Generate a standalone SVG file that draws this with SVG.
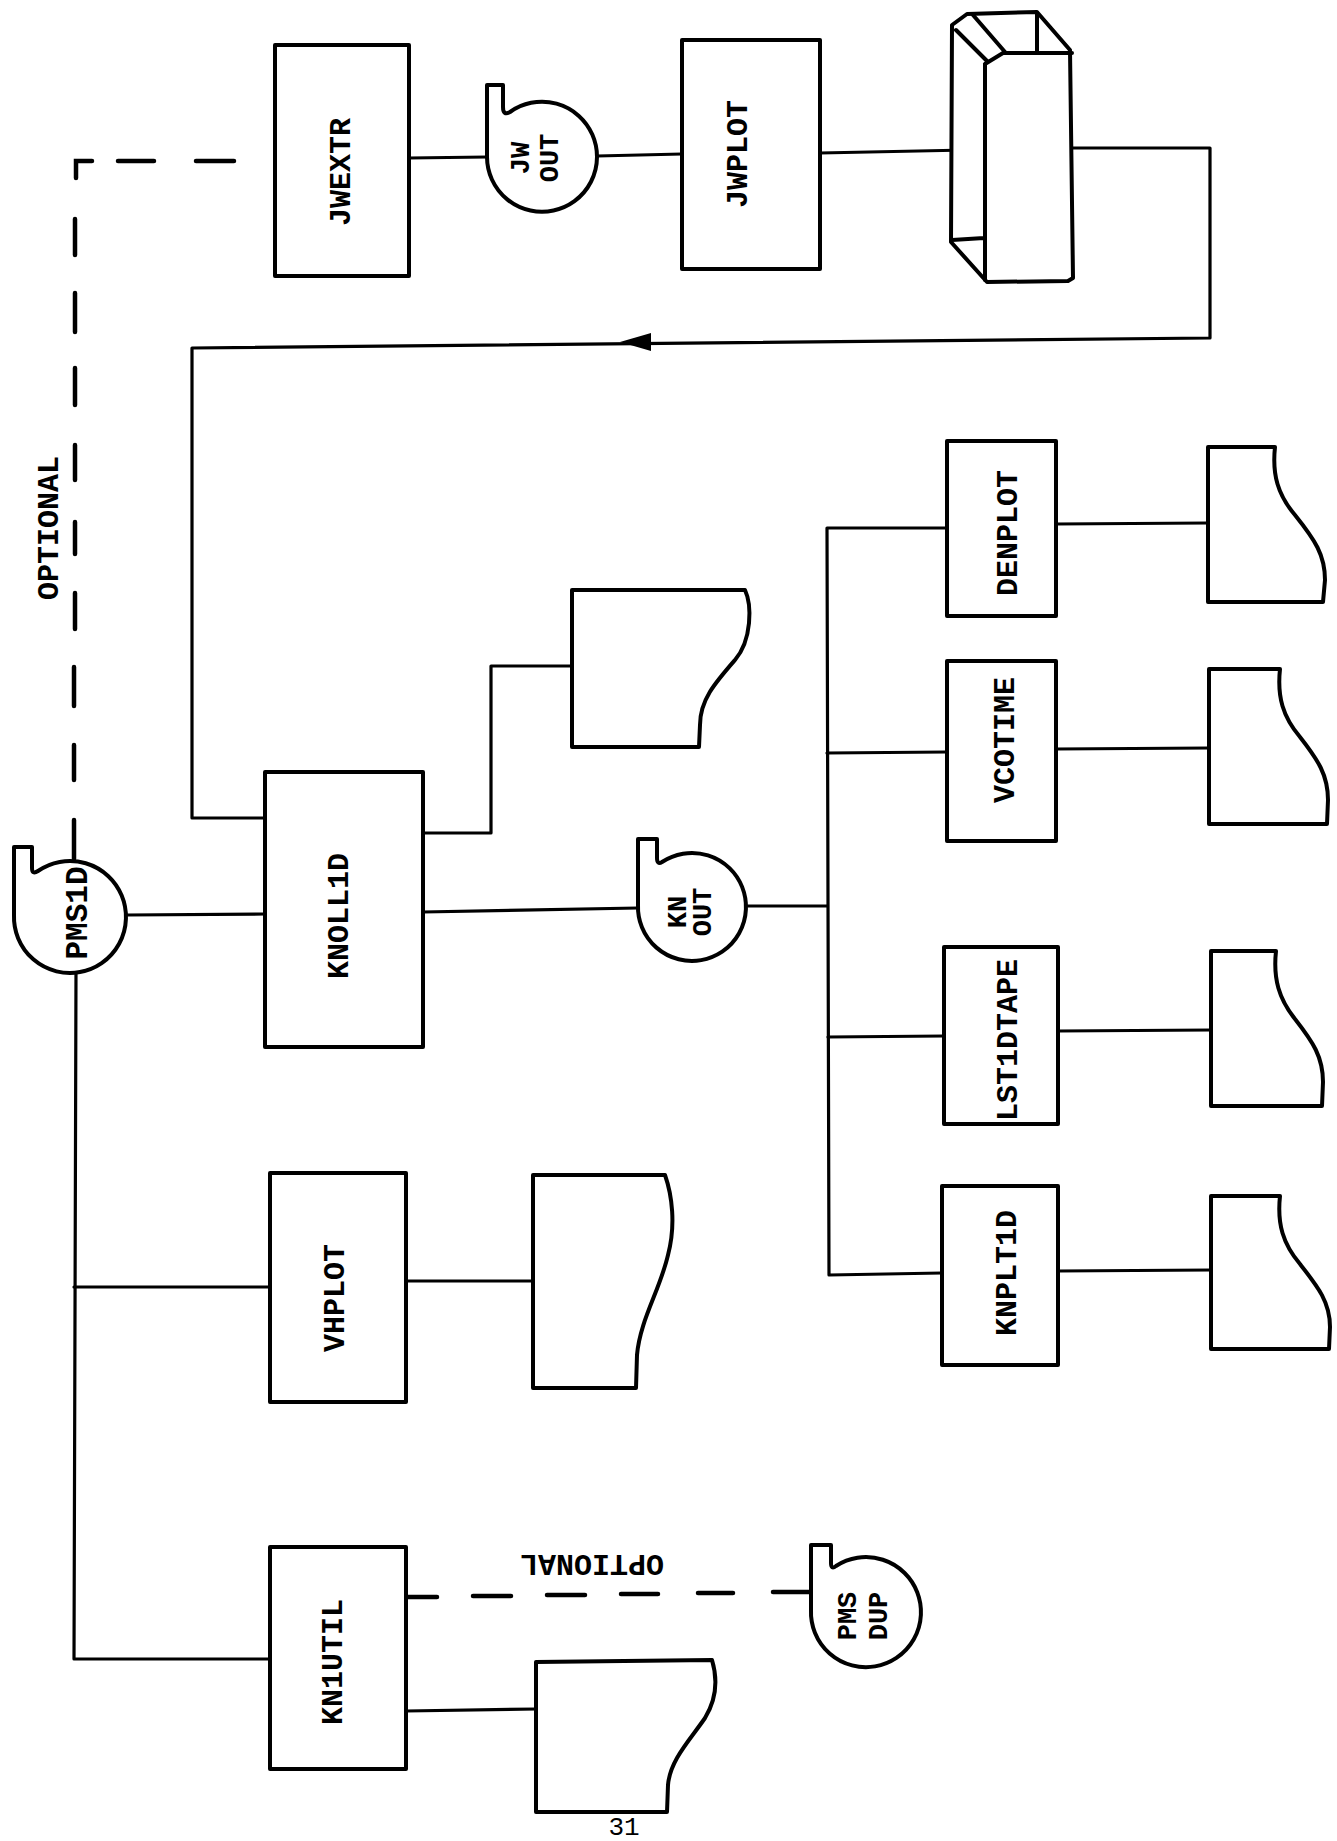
<svg xmlns="http://www.w3.org/2000/svg" width="1337" height="1841" viewBox="0 0 1337 1841">
<style>
.box{fill:#fff;stroke:#000;stroke-width:4;stroke-linejoin:round}
.sym{fill:#fff;stroke:#000;stroke-width:4;stroke-linejoin:round;stroke-linecap:round}
.ln{fill:none;stroke:#000;stroke-width:3.2;stroke-linecap:round;stroke-linejoin:round}
.dash{fill:none;stroke:#000;stroke-width:4.5;stroke-linecap:round}
.lbl{font-family:"Liberation Mono","DejaVu Sans Mono",monospace;font-size:30px;font-weight:bold;text-anchor:middle;fill:#000}
.blbl{font-family:"Liberation Mono","DejaVu Sans Mono",monospace;font-size:30px;font-weight:bold;text-anchor:middle;fill:#000}
.tlbl{font-family:"Liberation Mono","DejaVu Sans Mono",monospace;font-size:27px;font-weight:bold;text-anchor:middle;fill:#000}
</style>
<rect width="1337" height="1841" fill="#fff"/>

<g id="connectors">
  <path class="ln" d="M409,158 L487,157"/>
  <path class="ln" d="M597,156 L682,154"/>
  <path class="ln" d="M820,153 L967,150"/>
  <path class="ln" d="M1073,148 L1210,148 L1210,338 L192,348 L192,818 L265,818"/>
  <polygon points="620,342 651,333 651,351" fill="#000"/>
  <path class="ln" d="M127,915 L265,914"/>
  <path class="ln" d="M76,970 L74,1659 L270,1659"/>
  <path class="ln" d="M74,1287 L270,1287"/>
  <path class="ln" d="M423,833 L491,833 L491,666 L572,666"/>
  <path class="ln" d="M423,912 L638,908"/>
  <path class="ln" d="M747,906 L827,906"/>
  <path class="ln" d="M947,528 L827,528 L829,1275 L942,1273"/>
  <path class="ln" d="M827,753 L947,752"/>
  <path class="ln" d="M828,1037 L944,1036"/>
  <path class="ln" d="M1056,524 L1208,523"/>
  <path class="ln" d="M1056,749 L1209,748"/>
  <path class="ln" d="M1058,1031 L1211,1030"/>
  <path class="ln" d="M1058,1271 L1211,1270"/>
  <path class="ln" d="M406,1281 L533,1281"/>
  <path class="ln" d="M406,1711 L536,1709"/>
  <path class="dash" d="M234,161 L196,161 M154,161 L118,161 M92,161 L76,161 L76,178 M75,219 L75,255 M75,293 L75,332 M75,368 L75,405 M75,445 L75,480 M75,522 L75,554 M75,593 L75,629 M74,667 L74,706 M74,745 L74,780 M74,820 L74,859"/>
  <path class="dash" d="M406,1597 L437,1597 M473,1596 L511,1596 M547,1595 L585,1595 M621,1594 L658,1594 M698,1593 L733,1593 M773,1592 L809,1592"/>
</g>

<g id="optional-top">
  <text class="blbl" transform="translate(58,528) rotate(-90)">OPTIONAL</text>
</g>
<g id="optional-bottom">
  <text class="blbl" transform="translate(592,1555) rotate(180)">OPTIONAL</text>
</g>

<g id="jwextr">
  <rect class="box" x="275" y="45" width="134" height="231"/>
  <text class="lbl" transform="translate(350,172) rotate(-90)">JWEXTR</text>
</g>

<g id="jwout">
  <path class="sym" d="M487,157 L487,85 L503,85 L503,107 Q503,116 510,112 A55,55 0 1 1 487,157 Z"/>
  <text class="tlbl" transform="translate(529,158) rotate(-90)">JW</text>
  <text class="tlbl" transform="translate(558,158) rotate(-90)">OUT</text>
</g>

<g id="jwplot">
  <rect class="box" x="682" y="40" width="138" height="229"/>
  <text class="lbl" transform="translate(747,154) rotate(-90)">JWPLOT</text>
</g>

<g id="printer">
  <path class="sym" d="M952,25 L967,14 L1037,12 L1070,50 L1073,278 L1068,281 L987,282 L951,242 Z"/>
  <path class="ln" style="stroke-width:4" d="M985,64 L985,280 M985,64 L1003,53 L1072,53 M956,30 L988,62 M973,15 L1005,52 M1037,13 L1037,51 M952,240 L984,238"/>
</g>

<g id="pms1d">
  <path class="sym" d="M14,915 L14,847 L32,847 L32,868 Q32,875 38,871 A56,56 0 1 1 14,915 Z"/>
  <text class="blbl" style="font-size:31px" transform="translate(87,913) rotate(-90)">PMS1D</text>
</g>

<g id="knoll1d">
  <rect class="box" x="265" y="772" width="158" height="275"/>
  <text class="lbl" transform="translate(348,916) rotate(-90)">KNOLL1D</text>
</g>

<g id="knoll1d-report">
  <path class="sym" d="M572,590 L745,590 C752,605 752,640 735,660 C715,683 700,700 700,725 L699,747 L572,747 Z"/>
</g>

<g id="knout">
  <path class="sym" d="M638,905 L638,839 L657,839 L657,858 Q657,865 662,862 A54,54 0 1 1 638,905 Z"/>
  <text class="tlbl" transform="translate(686,912) rotate(-90)">KN</text>
  <text class="tlbl" transform="translate(711,912) rotate(-90)">OUT</text>
</g>

<g id="denplot">
  <rect class="box" x="947" y="441" width="109" height="175"/>
  <text class="lbl" transform="translate(1017,533) rotate(-90)">DENPLOT</text>
</g>
<g id="denplot-report">
  <path class="sym" d="M1208,447 L1275,447 C1272,475 1278,495 1295,515 C1315,540 1325,555 1325,580 L1323,602 L1208,602 Z"/>
</g>

<g id="vcotime">
  <rect class="box" x="947" y="661" width="109" height="180"/>
  <text class="lbl" transform="translate(1014,740) rotate(-90)">VCOTIME</text>
</g>
<g id="vcotime-report">
  <path class="sym" d="M1209,669 L1280,669 C1277,697 1283,717 1300,737 C1318,760 1328,775 1328,800 L1327,824 L1209,824 Z"/>
</g>

<g id="lst1dtape">
  <rect class="box" x="944" y="947" width="114" height="177"/>
  <text class="lbl" transform="translate(1017,1040) rotate(-90)">LST1DTAPE</text>
</g>
<g id="lst1dtape-report">
  <path class="sym" d="M1211,951 L1276,951 C1273,979 1279,999 1295,1019 C1313,1042 1323,1057 1323,1082 L1322,1106 L1211,1106 Z"/>
</g>

<g id="knplt1d">
  <rect class="box" x="942" y="1186" width="116" height="179"/>
  <text class="lbl" transform="translate(1016,1273) rotate(-90)">KNPLT1D</text>
</g>
<g id="knplt1d-report">
  <path class="sym" d="M1211,1196 L1280,1196 C1277,1224 1283,1244 1300,1264 C1318,1287 1330,1302 1330,1327 L1329,1349 L1211,1349 Z"/>
</g>

<g id="vhplot">
  <rect class="box" x="270" y="1173" width="136" height="229"/>
  <text class="lbl" transform="translate(344,1298) rotate(-90)">VHPLOT</text>
</g>
<g id="vhplot-report">
  <path class="sym" d="M533,1175 L665,1175 C672,1195 676,1225 668,1255 C660,1290 640,1320 637,1355 L636,1388 L533,1388 Z"/>
</g>

<g id="kn1util">
  <rect class="box" x="270" y="1547" width="136" height="222"/>
  <text class="lbl" transform="translate(342,1662) rotate(-90)">KN1UTIL</text>
</g>
<g id="kn1util-report">
  <path class="sym" d="M536,1662 L712,1660 C718,1680 716,1700 705,1718 C690,1740 670,1760 668,1785 L667,1812 L536,1812 Z"/>
</g>

<g id="pmsdup">
  <path class="sym" d="M811,1610 L811,1545 L831,1545 L831,1563 Q831,1570 836,1566 A55,55 0 1 1 811,1610 Z"/>
  <text class="tlbl" transform="translate(856,1616) rotate(-90)">PMS</text>
  <text class="tlbl" transform="translate(887,1616) rotate(-90)">DUP</text>
</g>

<g id="page-number">
  <text x="624" y="1835" style="font-family:'Liberation Mono',monospace;font-size:26px;text-anchor:middle;fill:#000">31</text>
</g>
</svg>
